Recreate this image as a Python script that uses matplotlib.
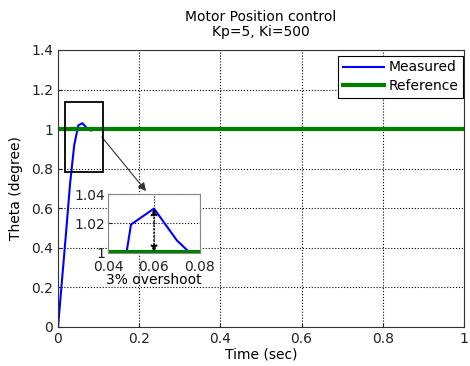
import matplotlib
matplotlib.use("Agg")
import matplotlib.pyplot as plt
from matplotlib.patches import Rectangle

# Data
t = [0.0, 0.01, 0.02, 0.03, 0.04, 0.05, 0.06, 0.07, 0.08, 0.09, 0.10]
theta = [0.0, 0.24, 0.48, 0.73, 0.92, 1.019, 1.030, 1.008, 0.993, 0.998, 1.0]
ref_t = [0.0, 1.0]
ref_v = [1.0, 1.0]

xticks = [0, 0.2, 0.4, 0.6, 0.8, 1]
yticks = [0, 0.2, 0.4, 0.6, 0.8, 1, 1.2, 1.4]
in_xticks = [0.04, 0.06, 0.08]
in_yticks = [1, 1.02, 1.04]

plt.rcParams['font.family'] = ['DejaVu Sans']
plt.rcParams['font.size'] = 10

fig = plt.figure(figsize=(4.7, 3.66), dpi=100)
ax = fig.add_axes([0.1234, 0.1066, 0.8638, 0.7568])
ax.plot(t, theta, color='blue', lw=1.5, label='Measured')
ax.plot(ref_t, ref_v, color='green', lw=3, label='Reference')
ax.set_xlim(0, 1)
ax.set_ylim(0, 1.4)
ax.set_xticks(xticks)
ax.set_xticklabels(['0', '0.2', '0.4', '0.6', '0.8', '1'])
ax.set_yticks(yticks)
ax.set_yticklabels(['0', '0.2', '0.4', '0.6', '0.8', '1', '1.2', '1.4'])
ax.grid(True, linestyle=':', color='black', lw=0.8)
ax.tick_params(direction='in', length=3, labelsize=10, colors='#222222')
for s in ax.spines.values():
    s.set_color('#333333')
ax.set_xlabel('Time (sec)', fontsize=10, labelpad=1)
ax.set_ylabel('Theta (degree)', fontsize=10, labelpad=6)
ax.set_title('Motor Position control\nKp=5, Ki=500', fontsize=10, pad=10,
             linespacing=1.1)
leg = ax.legend(loc='upper right', bbox_to_anchor=(0.998, 0.98),
                fancybox=False, edgecolor='black',
                framealpha=1, handlelength=3, borderaxespad=0.0,
                handletextpad=0.3, borderpad=0.35, labelspacing=0.35)
leg.get_frame().set_linewidth(0.8)

# Zoom rectangle
ax.add_patch(Rectangle((0.017, 0.785), 0.093, 0.35, fill=False,
                       edgecolor='black', lw=1.3, zorder=5))
ax.annotate('', xy=(0.217, 0.687), xytext=(0.108, 0.96),
            arrowprops=dict(arrowstyle='-|>', color='#333333', lw=0.8,
                            mutation_scale=12, shrinkA=0, shrinkB=0))

# Inset
ins = fig.add_axes([0.2298, 0.3087, 0.1957, 0.1612])
ins.plot(t, theta, color='blue', lw=1.5)
ins.plot(ref_t, ref_v, color='green', lw=3)
ins.set_xlim(0.04, 0.08)
ins.set_ylim(0.9994, 1.04)
ins.set_xticks(in_xticks)
ins.set_xticklabels(['0.04', '0.06', '0.08'])
ins.set_yticks(in_yticks)
ins.set_yticklabels(['1', '1.02', '1.04'])
ins.grid(True, linestyle=':', color='black', lw=0.8)
ins.tick_params(direction='in', length=3, labelsize=10, colors='#222222')
ins.tick_params(axis='x', pad=5)
ins.tick_params(axis='y', pad=2)
for s in ins.spines.values():
    s.set_color('#888888')
ins.set_xlabel('3% overshoot', fontsize=10, labelpad=-1)
ins.annotate('', xy=(0.06, 1.0), xytext=(0.06, 1.03),
             arrowprops=dict(arrowstyle='<|-|>', color='black', lw=1.0,
                             linestyle=':', mutation_scale=10,
                             shrinkA=0, shrinkB=0))

fig.savefig('out.png', dpi=100)
